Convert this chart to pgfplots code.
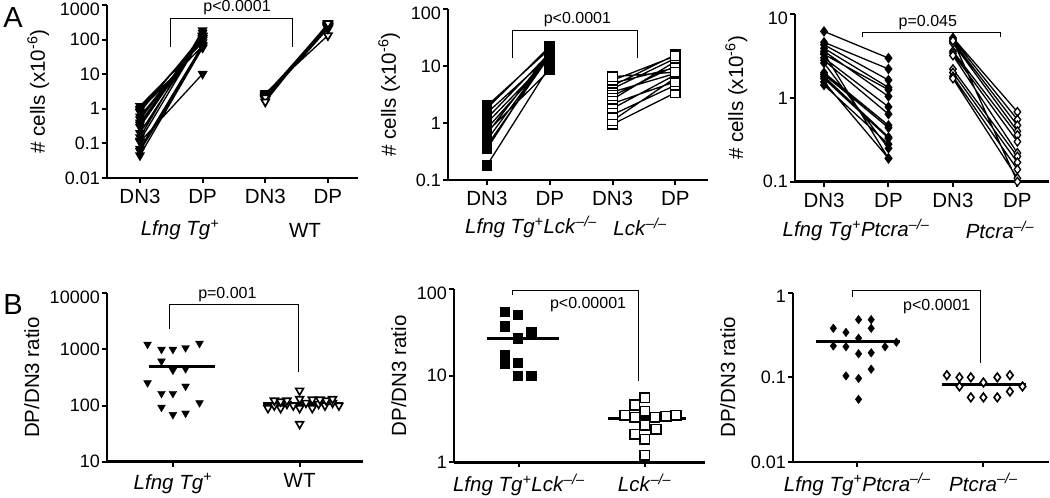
\documentclass[border=0pt]{standalone}
\usepackage{fontspec}
\setmainfont{Liberation Sans}
\usepackage{pgfplots}
\pgfplotsset{compat=1.18}
\newcommand{\lfng}{\textit{Lfng Tg}\textsuperscript{\textit{+}}}
\newcommand{\ko}{\textsuperscript{\textit{–/–}}}
\newcommand{\tickf}{\fontsize{18}{20}\selectfont}
\newcommand{\catf}{\fontsize{20.5}{22}\selectfont}
\newcommand{\pf}{\fontsize{16}{18}\selectfont}
\pgfplotsset{
  mypanel/.style={
    scale only axis,
    anchor=south west,
    axis x line=bottom, axis y line=left,
    axis line style={-, line width=2.6pt},
    yminorticks=false,
    xminorticks=false,
    tick style={line width=2pt, black},
    major tick length=5pt,
    tick align=outside,
    clip=false,
    unbounded coords=jump,
    yticklabel style={font=\tickf, inner sep=2pt},
    xticklabel style={font=\catf, yshift=-3pt},
    ylabel style={font=\catf},
    extra y tick style={yticklabel style={yshift=-4pt}, tick style={line width=2pt, black}},
  },
  mypairs/.style={black, line width=1.3pt, mark options={solid, line width=1.4pt}},
  mymed/.style={black, line width=2.6pt, mark=none},
  mybrk/.style={black, line width=1pt, mark=none},
}
\begin{document}
\begin{tikzpicture}
\useasboundingbox (0pt,0pt) rectangle (1050pt,498pt);
% ---------------- A1 ----------------
\begin{axis}[mypanel, ymode=log, at={(107pt,320pt)}, width=251pt, height=173pt,
  xmin=-0.526, xmax=3.48, ymin=0.01, ymax=1000,
  xtick={0,1,2,3}, xticklabels={DN3,DP,DN3,DP},
  ytick={0.01,0.1,1,10,100}, yticklabels={0.01,0.1,1,10,100},
  extra y ticks={1000}, extra y tick labels={1000},
  ylabel={\# cells (x10\textsuperscript{-6})}]
\addplot[mypairs, mark=triangle*, mark size=4.6pt, mark options={rotate=180, fill=black}] coordinates {
(0,0.045) (1,58) (0.5,nan)
(0,0.06) (1,60) (0.5,nan)
(0,0.07) (1,70) (0.5,nan)
(0,0.11) (1,10.2) (0.5,nan)
(0,0.15) (1,185) (0.5,nan)
(0,0.12) (1,128) (0.5,nan)
(0,0.2) (1,124) (0.5,nan)
(0,0.3) (1,128) (0.5,nan)
(0,0.35) (1,158) (0.5,nan)
(0,0.4) (1,102) (0.5,nan)
(0,0.5) (1,110) (0.5,nan)
(0,0.6) (1,98) (0.5,nan)
(0,0.8) (1,131) (0.5,nan)
(0,1.0) (1,112) (0.5,nan)
(0,1.2) (1,83) (0.5,nan)
(0,0.9) (1,66)
};
\addplot[mypairs, mark=triangle*, mark size=4.6pt, mark options={rotate=180, fill=white, line width=1.7pt}] coordinates {
(2,2.8) (3,132) (2.5,nan)
(2,2.6) (3,234) (2.5,nan)
(2,2.5) (3,238) (2.5,nan)
(2,2.4) (3,240) (2.5,nan)
(2,2.3) (3,230) (2.5,nan)
(2,2.2) (3,231) (2.5,nan)
(2,2.1) (3,221) (2.5,nan)
(2,2.0) (3,220) (2.5,nan)
(2,1.95) (3,215) (2.5,nan)
(2,1.9) (3,209) (2.5,nan)
(2,2.2) (3,253) (2.5,nan)
(2,2.4) (3,276) (2.5,nan)
(2,2.0) (3,240) (2.5,nan)
(2,2.3) (3,276) (2.5,nan)
(2,1.9) (3,238) (2.5,nan)
(2,2.1) (3,263) (2.5,nan)
(2,2.0) (3,260) (2.5,nan)
(2,2.2) (3,286) (2.5,nan)
(2,2.1) (3,284) (2.5,nan)
(2,1.6) (3,296)
};
\addplot[mybrk] coordinates {(0.48,61) (0.48,400) (2.44,400) (2.44,61)};
\node[font=\pf] at (axis cs:1.55,820) {p<0.0001};
\end{axis}
% ---------------- A2 ----------------
\begin{axis}[mypanel, ymode=log, at={(448pt,318pt)}, width=260pt, height=171pt,
  xmin=-0.62, xmax=3.52, ymin=0.1, ymax=100,
  xtick={0,1,2,3}, xticklabels={DN3,DP,DN3,DP},
  ytick={0.1,1,10}, yticklabels={0.1,1,10},
  extra y ticks={100}, extra y tick labels={100},
  ylabel={\# cells (x10\textsuperscript{-6})}]
\addplot[mypairs, mark=square*, mark size=4.7pt, mark options={fill=black}] coordinates {
(0,0.18) (1,10) (0.5,nan)
(0,0.35) (1,18) (0.5,nan)
(0,0.4) (1,15) (0.5,nan)
(0,0.5) (1,16) (0.5,nan)
(0,0.65) (1,17.5) (0.5,nan)
(0,0.8) (1,13.8) (0.5,nan)
(0,1.0) (1,13.8) (0.5,nan)
(0,1.2) (1,17) (0.5,nan)
(0,1.5) (1,15) (0.5,nan)
(0,2.0) (1,20) (0.5,nan)
(0,0.7) (1,8.5) (0.5,nan)
(0,1.8) (1,22)
};
\addplot[mypairs, mark=square*, mark size=4.7pt, mark options={fill=white}] coordinates {
(2,0.95) (3,3.4) (2.5,nan)
(2,1.1) (3,6.2) (2.5,nan)
(2,1.4) (3,4.6) (2.5,nan)
(2,1.8) (3,7.0) (2.5,nan)
(2,2.2) (3,5.3) (2.5,nan)
(2,2.6) (3,12) (2.5,nan)
(2,3.0) (3,10) (2.5,nan)
(2,3.5) (3,7.4) (2.5,nan)
(2,4.0) (3,13.6) (2.5,nan)
(2,4.5) (3,15.7) (2.5,nan)
(2,5.0) (3,9.3) (2.5,nan)
(2,5.6) (3,15) (2.5,nan)
(2,6.5) (3,7.8)
};
\addplot[mybrk] coordinates {(0.40,14) (0.40,41.6) (2.39,41.6) (2.39,14)};
\node[font=\pf] at (axis cs:1.44,65) {p<0.0001};
\end{axis}
% ---------------- A3 ----------------
\begin{axis}[mypanel, ymode=log, at={(795pt,316.3pt)}, width=254pt, height=167.7pt,
  xmin=-0.45, xmax=3.49, ymin=0.1, ymax=10,
  xtick={0,1,2,3}, xticklabels={DN3,DP,DN3,DP},
  ytick={0.1,1}, yticklabels={0.1,1},
  extra y ticks={10}, extra y tick labels={10},
  ylabel={\# cells (x10\textsuperscript{-6})}]
\addplot[mypairs, mark=diamond*, mark size=4.3pt, mark options={fill=black}] coordinates {
(0,6.2) (1,2.98) (0.5,nan)
(0,4.6) (1,2.21) (0.5,nan)
(0,4.3) (1,1.63) (0.5,nan)
(0,3.9) (1,1.33) (0.5,nan)
(0,3.6) (1,1.04) (0.5,nan)
(0,3.3) (1,1.25) (0.5,nan)
(0,3.0) (1,0.78) (0.5,nan)
(0,2.8) (1,0.64) (0.5,nan)
(0,2.6) (1,0.25) (0.5,nan)
(0,2.0) (1,0.47) (0.5,nan)
(0,1.9) (1,0.44) (0.5,nan)
(0,1.8) (1,0.34) (0.5,nan)
(0,1.7) (1,0.33) (0.5,nan)
(0,1.55) (1,0.19) (0.5,nan)
(0,1.42) (1,0.28) (0.5,nan)
(0,3.4) (1,0.19)
};
\addplot[mypairs, mark=diamond*, mark size=4.3pt, mark options={fill=white}] coordinates {
(2,5.2) (3,0.68) (2.5,nan)
(2,5.0) (3,0.55) (2.5,nan)
(2,4.7) (3,0.47) (2.5,nan)
(2,4.5) (3,0.40) (2.5,nan)
(2,3.6) (3,0.36) (2.5,nan)
(2,3.4) (3,0.30) (2.5,nan)
(2,3.2) (3,0.22) (2.5,nan)
(2,2.2) (3,0.2) (2.5,nan)
(2,2.0) (3,0.17) (2.5,nan)
(2,1.8) (3,0.14) (2.5,nan)
(2,1.7) (3,0.11) (2.5,nan)
(2,4.8) (3,0.10)
};
\addplot[mybrk] coordinates {(0.59,5.3) (0.59,6.1) (2.74,6.1) (2.74,5.3)};
\node[font=\pf] at (axis cs:1.61,7.8) {p=0.045};
\end{axis}
% ---------------- B1 ----------------
\begin{axis}[mypanel, ymode=log, at={(107pt,36.3pt)}, width=256pt, height=168.4pt,
  xmin=0.48, xmax=2.5, ymin=10, ymax=10000,
  xtick={1,2}, xticklabels={\lfng,WT},
  ytick={10,100,1000}, yticklabels={10,100,1000},
  extra y ticks={10000}, extra y tick labels={10000},
  ylabel={DP/DN3 ratio}]
\addplot[only marks, mark=triangle*, mark size=4.5pt, mark options={rotate=180, fill=black, draw=black}] coordinates {
(0.80,1230) (0.91,1000) (1.0,1000) (1.10,1070) (1.21,1280)
(0.91,620) (1.0,427) (1.10,452)
(0.80,254) (1.10,221) (0.91,164) (1.0,164)
(0.91,93) (1.21,112) (1.0,69) (1.10,73)
};
\addplot[only marks, mark=triangle*, mark size=4.5pt, mark options={rotate=180, fill=white, draw=black, line width=1.6pt}] coordinates {
(1.75,90) (1.80,100) (1.85,90) (1.90,107) (1.95,100) (2.0,90) (2.05,112)
(2.10,90) (2.15,107) (2.20,100) (2.26,112) (2.31,100)
(1.80,123) (1.90,123) (2.0,131) (2.10,128) (2.21,123) (2.26,131)
(2.0,185) (2.0,47) (1.85,118) (2.16,128)
};
\addplot[mymed] coordinates {(0.81,500) (1.33,500)};
\addplot[mymed] coordinates {(1.71,110) (2.34,110)};
\addplot[mybrk] coordinates {(0.97,2300) (0.97,6200) (1.99,6200) (1.99,400)};
\node[font=\pf] at (axis cs:1.43,9300) {p=0.001};
\end{axis}
% ---------------- B2 ----------------
\begin{axis}[mypanel, ymode=log, at={(454pt,35.7pt)}, width=251pt, height=173pt,
  xmin=0.484, xmax=2.48, ymin=1, ymax=100,
  xtick={1,2}, xticklabels={\textit{Lfng Tg}\textsuperscript{\textit{+}}\textit{Lck}\ko,\textit{Lck}\ko},
  ytick={1,10}, yticklabels={1,10},
  extra y ticks={100}, extra y tick labels={100},
  ylabel={DP/DN3 ratio}]
\addplot[only marks, mark=square*, mark size=4.8pt, mark options={fill=black, draw=black}] coordinates {
(0.886,55) (0.99,51) (0.886,37.6) (1.10,31.7) (0.99,27)
(0.886,17.3) (0.886,13.8) (0.99,14.2) (0.99,10) (1.10,10)
};
\addplot[only marks, mark=square*, mark size=4.8pt, mark options={fill=white, draw=black, line width=1.6pt}] coordinates {
(2.0,5.6) (1.92,4.6) (2.0,3.9) (1.84,3.5) (1.92,3.3) (2.08,3.3) (2.17,3.4) (2.25,3.5)
(2.0,2.7) (2.09,2.4) (1.92,2.1) (2.0,1.85) (2.0,1.2)
};
\addplot[mymed] coordinates {(0.75,27) (1.32,27)};
\addplot[mymed] coordinates {(1.71,3.2) (2.33,3.2)};
\addplot[mybrk] coordinates {(0.95,86) (0.95,98) (1.95,98) (1.95,8.7)};
\node[font=\pf] at (axis cs:1.55,66) {p<0.00001};
\end{axis}
% ---------------- B3 ----------------
\begin{axis}[mypanel, ymode=log, at={(793pt,36pt)}, width=256pt, height=169.3pt,
  xmin=0.49, xmax=2.52, ymin=0.01, ymax=1,
  xtick={1,2}, xticklabels={\textit{Lfng Tg}\textsuperscript{\textit{+}}\textit{Ptcra}\ko,\textit{Ptcra}\ko},
  ytick={0.01,0.1}, yticklabels={0.01,0.1},
  extra y ticks={1}, extra y tick labels={1},
  ylabel={DP/DN3 ratio}]
\addplot[only marks, mark=diamond*, mark size=4.3pt, mark options={fill=black, draw=black}] coordinates {
(0.81,0.38) (0.91,0.34) (1.01,0.48) (1.11,0.48) (1.11,0.38) (1.01,0.29)
(0.81,0.235) (0.91,0.23) (1.22,0.23) (1.31,0.26) (1.01,0.19) (1.11,0.195)
(1.11,0.125) (0.91,0.104) (1.01,0.097) (1.01,0.055)
};
\addplot[only marks, mark=diamond*, mark size=4.3pt, mark options={fill=white, draw=black, line width=1.6pt}] coordinates {
(1.71,0.106) (1.81,0.1) (1.90,0.1) (2.11,0.1) (2.21,0.106)
(2.0,0.087) (1.81,0.078) (2.31,0.078) (2.21,0.068)
(1.90,0.058) (2.0,0.058) (2.11,0.058)
};
\addplot[mymed] coordinates {(0.67,0.264) (1.34,0.264)};
\addplot[mymed] coordinates {(1.67,0.082) (2.34,0.082)};
\addplot[mybrk] coordinates {(0.96,0.89) (0.96,1.05) (1.98,1.05) (1.98,0.148)};
\node[font=\pf] at (axis cs:1.63,0.68) {p<0.0001};
\end{axis}
% group labels
\node[font=\catf] at (180pt,268pt) {\lfng};
\node[font=\catf] at (305pt,268pt) {WT};
\node[font=\catf] at (531pt,271pt) {\textit{Lfng Tg}\textsuperscript{\textit{+}}\textit{Lck}\ko};
\node[font=\catf] at (640pt,271pt) {\textit{Lck}\ko};
\node[font=\catf] at (856pt,268pt) {\textit{Lfng Tg}\textsuperscript{\textit{+}}\textit{Ptcra}\ko};
\node[font=\catf] at (1000pt,268pt) {\textit{Ptcra}\ko};
\node[font=\fontsize{29}{30}\selectfont] at (13pt,480pt) {A};
\node[font=\fontsize{29}{30}\selectfont] at (13pt,193pt) {B};
\end{tikzpicture}
\end{document}
